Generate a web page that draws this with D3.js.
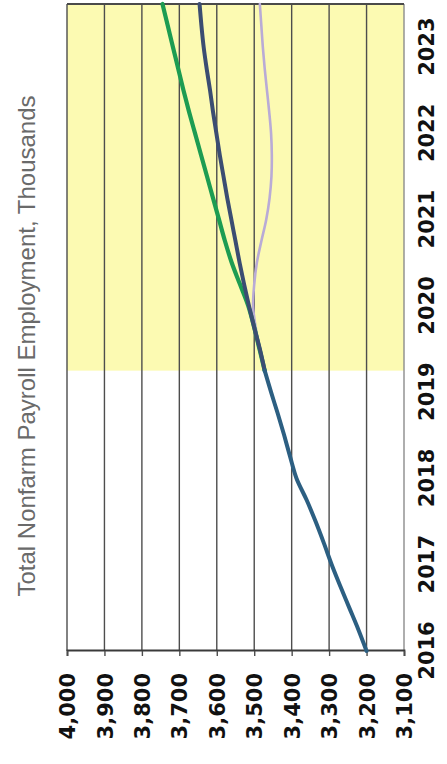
<!DOCTYPE html>
<html>
<head>
<meta charset="utf-8">
<script src="https://cdn.jsdelivr.net/npm/d3@7"></script>
<style>
  html, body { margin: 0; padding: 0; background: #ffffff; }
  svg { display: block; }
</style>
</head>
<body>
<svg id="chart" width="447" height="764"></svg>
<script>
// Total nonfarm payroll employment (thousands), quarterly history and three forecast paths
const historyQuarters = [2016, 2016.25, 2016.5, 2016.75, 2017, 2017.25, 2017.5, 2017.75,
                         2018, 2018.25, 2018.5, 2018.75, 2019, 2019.25];
const historyValues   = [3200, 3222, 3246, 3270, 3293, 3314, 3336, 3360,
                         3387, 3404, 3420, 3437, 3455, 3472];

const forecastQuarters = [2019.25, 2019.5, 2019.75, 2020, 2020.25, 2020.5, 2020.75,
                          2021, 2021.25, 2021.5, 2021.75, 2022, 2022.25, 2022.5,
                          2022.75, 2023, 2023.25, 2023.5];
const optimisticValues  = [3472, 3486, 3500, 3516, 3538, 3560, 3578,
                           3594, 3610, 3626, 3642, 3658, 3674, 3689,
                           3703, 3717, 3731, 3745];
const baselineValues    = [3472, 3485, 3500, 3514, 3527, 3539, 3550,
                           3561, 3572, 3582, 3592, 3601, 3610, 3618,
                           3627, 3635, 3641, 3646];
const pessimisticValues = [3472, 3485, 3496, 3503, 3500, 3493, 3481,
                           3468, 3459, 3454, 3453, 3455, 3460, 3466,
                           3472, 3477, 3481, 3485];

const yearLabels  = [2016, 2017, 2018, 2019, 2020, 2021, 2022, 2023];
const valueTicks  = [3100, 3200, 3300, 3400, 3500, 3600, 3700, 3800, 3900, 4000];
const forecastStart = 2019.25;
const timeDomain  = [2016, 2023.5];
const valueDomain = [3100, 4000];

const titleText = "Total Nonfarm Payroll Employment, Thousands";

// The chart is laid out in landscape (764 x 447) and turned a quarter turn counter-clockwise
const W = 764, H = 447;
const svg = d3.select("#chart");
const g = svg.append("g").attr("transform", `translate(0,${W}) rotate(-90)`);

const x = d3.scaleLinear().domain(timeDomain).range([113, 760]);
const y = d3.scaleLinear().domain(valueDomain).range([404, 67]);

// forecast period shading
g.append("rect")
  .attr("x", x(forecastStart))
  .attr("y", y(valueDomain[1]))
  .attr("width", x(timeDomain[1]) - x(forecastStart))
  .attr("height", y(valueDomain[0]) - y(valueDomain[1]))
  .attr("fill", "#fcfab2");

// horizontal value gridlines
g.append("g")
  .selectAll("line")
  .data(valueTicks.filter(v => v !== valueDomain[0]))
  .join("line")
  .attr("x1", x(timeDomain[0]))
  .attr("x2", x(timeDomain[1]))
  .attr("y1", d => y(d))
  .attr("y2", d => y(d))
  .attr("stroke", "#4d4d4d")
  .attr("stroke-width", 1.4);

// bottom border (3,100) is a lighter grey
g.append("line")
  .attr("x1", x(timeDomain[0])).attr("x2", x(timeDomain[1]))
  .attr("y1", y(valueDomain[0])).attr("y2", y(valueDomain[0]))
  .attr("stroke", "#8c8c8c").attr("stroke-width", 1.4);

// right border
g.append("line")
  .attr("x1", x(timeDomain[1])).attr("x2", x(timeDomain[1]))
  .attr("y1", y(valueDomain[1])).attr("y2", y(valueDomain[0]))
  .attr("stroke", "#4a4a4a").attr("stroke-width", 1.8);

// value axis
const yAxis = g.append("g")
  .attr("transform", `translate(${x(timeDomain[0])},0)`)
  .call(d3.axisLeft(y).tickValues(valueTicks).tickFormat(d3.format(",")).tickSize(5).tickPadding(17));
yAxis.select(".domain").attr("stroke", "#3a3a3a").attr("stroke-width", 1.8);
yAxis.selectAll(".tick line").attr("stroke", "#4d4d4d").attr("stroke-width", 1.4);
yAxis.selectAll("text")
  .attr("font-family", "'DejaVu Sans', Verdana, sans-serif")
  .attr("font-weight", "bold")
  .attr("font-size", 21)
  .attr("fill", "#111")
  .attr("dy", "0.36em");

// year axis
const xAxis = g.append("g")
  .attr("transform", `translate(0,${y(valueDomain[0])})`)
  .call(d3.axisBottom(x).tickValues(yearLabels).tickFormat(d3.format("d")).tickSize(0).tickPadding(0));
xAxis.select(".domain").remove();
xAxis.selectAll("text")
  .attr("font-family", "'DejaVu Sans', Verdana, sans-serif")
  .attr("font-weight", "bold")
  .attr("font-size", 21)
  .attr("fill", "#111")
  .attr("dy", null)
  .attr("y", 30);

// series lines
const line = d3.line()
  .x(d => x(d[0]))
  .y(d => y(d[1]))
  .curve(d3.curveCatmullRom.alpha(0.5));

const series = [
  { q: forecastQuarters, v: pessimisticValues, color: "#b9abd6", width: 2.6 },
  { q: forecastQuarters, v: optimisticValues,  color: "#1d9c52", width: 4.2 },
  { q: forecastQuarters, v: baselineValues,    color: "#3b4d72", width: 4.0 },
  { q: historyQuarters,  v: historyValues,     color: "#2c5f82", width: 4.0 }
];

g.append("g")
  .selectAll("path")
  .data(series)
  .join("path")
  .attr("d", s => line(s.q.map((t, i) => [t, s.v[i]])))
  .attr("fill", "none")
  .attr("stroke", s => s.color)
  .attr("stroke-width", s => s.width)
  .attr("stroke-linejoin", "round")
  .attr("stroke-linecap", "round");

// title
g.append("text")
  .attr("x", 418)
  .attr("y", 35)
  .attr("text-anchor", "middle")
  .attr("font-family", "'Liberation Sans', Arial, sans-serif")
  .attr("font-size", 24)
  .attr("fill", "#6a6a6a")
  .text(titleText);
</script>
</body>
</html>
